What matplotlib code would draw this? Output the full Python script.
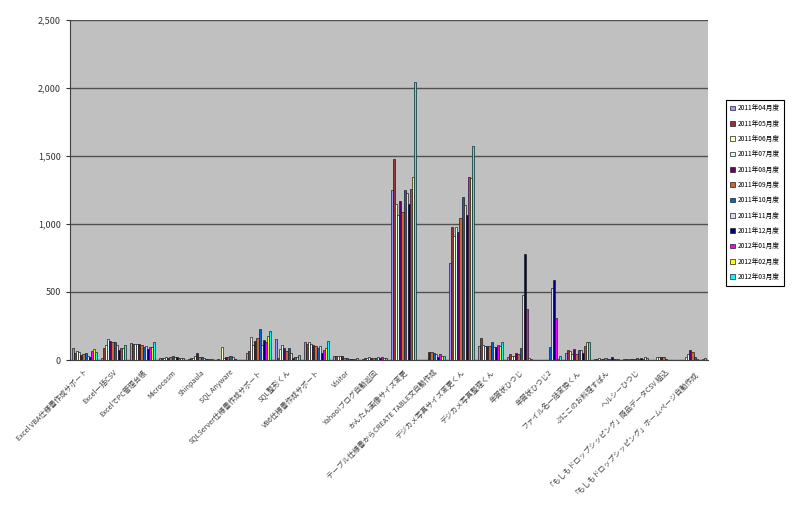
import numpy as np
import matplotlib
matplotlib.use('Agg')
import matplotlib.pyplot as plt
from matplotlib.ticker import FuncFormatter

plt.rcParams['font.family'] = ['Noto Sans CJK JP', 'DejaVu Sans']

# categories (software titles)
categories = [
    'Excel VBA仕様書作成サポート', 'Excel一括CSV', 'ExcelでPC管理台帳', 'Microcosm',
    'Shinpaula', 'SQL Anyware', 'SQLServer仕様書作成サポート', 'SQL整形くん',
    'VB6仕様書作成サポート', 'Visitor', 'Yahoo!ブログ自動巡回', 'かんたん画像サイズ変更',
    'テーブル仕様書からCREATE TABLE文自動作成', 'デジカメ写真サイズ変更くん',
    'デジカメ写真整理くん', '年賀状ひつじ', '年賀状ひつじ2', 'ファイル名一括変換くん',
    'ぷにこのお料理すぱん', 'ヘルシーひつじ',
    '「もしもドロップシッピング」商品データCSV 組込',
    '「もしもドロップシッピング」ホームページ自動作成',
]

months = ['2011年04月度', '2011年05月度', '2011年06月度', '2011年07月度',
          '2011年08月度', '2011年09月度', '2011年10月度', '2011年11月度',
          '2011年12月度', '2012年01月度', '2012年02月度', '2012年03月度']

# values per category, one per month (04 .. 03)
excel_vba = [86, 49, 69, 56, 37, 42, 54, 32, 22, 66, 81, 59]
excel_csv = [12, 86, 108, 152, 142, 135, 135, 110, 73, 86, 88, 110]
excel_pc = [122, 117, 120, 115, 117, 110, 98, 105, 78, 98, 98, 134]
microcosm = [18, 12, 17, 24, 17, 22, 32, 24, 22, 17, 15, 12]
shinpaula = [10, 15, 17, 30, 55, 25, 22, 12, 8, 8, 6, 6]
sql_anyware = [5, 3, 95, 15, 25, 25, 28, 25, 5, 3, 3, 3]
sqlserver = [50, 65, 170, 110, 140, 165, 225, 110, 145, 135, 175, 213]
sql_seikei = [155, 12, 78, 108, 86, 69, 86, 54, 17, 20, 25, 37]
vb6 = [135, 115, 135, 115, 110, 105, 90, 100, 55, 75, 90, 140]
visitor = [33, 26, 33, 28, 33, 16, 12, 8, 6, 6, 8, 12]
yahoo = [8, 16, 12, 25, 18, 16, 18, 20, 16, 20, 18, 12]
kantan = [1250, 1475, 1150, 1065, 1170, 1085, 1250, 1225, 1150, 1260, 1345, 2045]
table_create = [2, 0, 0, 2, 57, 57, 55, 45, 20, 45, 28, 28]
dejikame_size = [710, 980, 915, 980, 940, 1045, 1200, 1140, 1065, 1345, 1335, 1570]
dejikame_seiri = [100, 163, 110, 105, 100, 105, 130, 95, 95, 110, 100, 130]
nenga = [22, 45, 33, 28, 52, 45, 90, 475, 780, 375, 15, 8]
nenga2 = [0, 0, 0, 0, 0, 2, 95, 530, 590, 310, 10, 28]
filename = [55, 75, 65, 45, 82, 45, 70, 75, 50, 105, 130, 130]
punico = [5, 8, 15, 10, 8, 15, 10, 8, 20, 5, 8, 10]
healthy = [5, 5, 8, 10, 8, 5, 15, 10, 15, 10, 20, 18]
moshimo_csv = [0, 2, 25, 25, 25, 25, 5, 0, 0, 0, 0, 2]
moshimo_hp = [0, 0, 20, 45, 70, 57, 25, 8, 3, 3, 10, 12]

data = np.array([excel_vba, excel_csv, excel_pc, microcosm, shinpaula, sql_anyware,
                 sqlserver, sql_seikei, vb6, visitor, yahoo, kantan, table_create,
                 dejikame_size, dejikame_seiri, nenga, nenga2, filename, punico,
                 healthy, moshimo_csv, moshimo_hp])

colors = ['#9999FF', '#993333', '#FFFFCC', '#CCFFFF', '#660066', '#CC6633',
          '#0066CC', '#DDDDEE', '#000080', '#FF00FF', '#FFFF00', '#00FFFF']

fig = plt.figure(figsize=(8, 5.09), dpi=100)
ax = fig.add_axes([0.0875, 0.2927, 0.7975, 0.6683])
ax.set_facecolor('#C0C0C0')

x = np.arange(len(categories))
n = len(months)
w = 0.88 / n
for i in range(n):
    ax.bar(x - 0.44 + w * (i + 0.5), data[:, i], width=w, color=colors[i],
           edgecolor='#202020', linewidth=0.5, label=months[i], zorder=3)

ax.set_xlim(-0.5, len(categories) - 0.5)
ax.set_ylim(0, 2500)
ax.set_yticks(np.arange(0, 2501, 500))
ax.yaxis.set_major_formatter(FuncFormatter(lambda v, p: '{:,.0f}'.format(v)))
ax.grid(axis='y', color='#505050', linewidth=1, zorder=1)
ax.tick_params(axis='y', labelsize=6.5, colors='#333333', length=3)
ax.set_xticks(x)
ax.set_xticklabels(categories, rotation=45, ha='right', rotation_mode='anchor',
                   fontsize=5.2, color='#404040')
ax.tick_params(axis='x', length=0, pad=6)
for s in ['top', 'right']:
    ax.spines[s].set_visible(False)
for s in ['left', 'bottom']:
    ax.spines[s].set_color('#404040')

leg = fig.legend(loc='upper left', bbox_to_anchor=(0.907, 0.804), fontsize=4.8,
                 handlelength=0.7, handleheight=0.7, handletextpad=0.4,
                 labelspacing=1.1, borderpad=0.7, borderaxespad=0, fancybox=False,
                 framealpha=1, edgecolor='#000000')
leg.get_frame().set_linewidth(0.8)

plt.savefig('out.png', dpi=100)
